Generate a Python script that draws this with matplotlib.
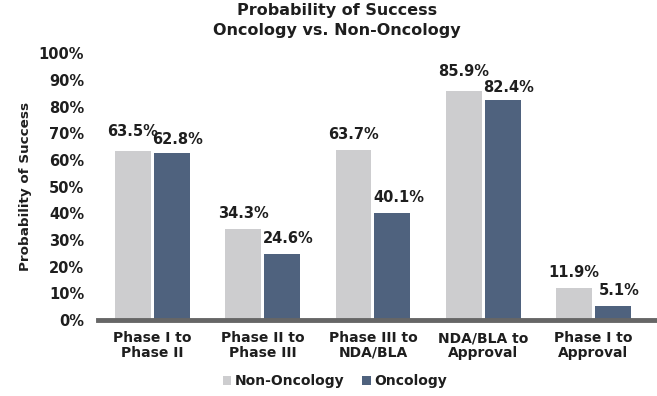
import matplotlib
matplotlib.use("Agg")
import matplotlib.pyplot as plt
import numpy as np

categories = ["Phase I to\nPhase II", "Phase II to\nPhase III", "Phase III to\nNDA/BLA",
              "NDA/BLA to\nApproval", "Phase I to\nApproval"]
non_oncology = [63.5, 34.3, 63.7, 85.9, 11.9]
oncology = [62.8, 24.6, 40.1, 82.4, 5.1]
yticks = [0, 10, 20, 30, 40, 50, 60, 70, 80, 90, 100]

c_non = "#CDCDCF"
c_onc = "#4F627E"
txt = "#1E1E1E"

plt.rcParams['font.family'] = ['DejaVu Sans']
W, H = 657, 396
fig = plt.figure(figsize=(W / 100, H / 100), dpi=100)
ax = fig.add_axes([98 / W, 1 - 320 / H, (W - 98) / W, (320 - 53.3) / H])

x = np.arange(len(categories))
w = 0.326
gap = 0.0136
b1 = ax.bar(x - w / 2 - gap, non_oncology, w, color=c_non, label="Non-Oncology", zorder=2)
b2 = ax.bar(x + w / 2 + gap, oncology, w, color=c_onc, label="Oncology", zorder=2)

for rect, v, o in zip(b1, non_oncology, oncology):
    off = 4.5 if abs(v - o) < 5 else 3.0
    ax.text(rect.get_x() + rect.get_width() / 2, v + off, f"{v:.1f}%", ha="center",
            va="bottom", fontsize=10.5, fontweight="bold", color=txt)
for rect, v, n in zip(b2, oncology, non_oncology):
    off = 1.9 if abs(v - n) < 5 else 3.0
    ax.text(rect.get_x() + rect.get_width() / 2 + 0.055, v + off, f"{v:.1f}%", ha="center",
            va="bottom", fontsize=10.5, fontweight="bold", color=txt)

ax.set_xlim(-0.494, 4.576)
ax.set_ylim(0, 100)
ax.set_yticks(yticks)
ax.set_yticklabels([f"{t}%" for t in yticks], fontsize=10.5, fontweight="bold", color=txt)
ax.set_xticks(x)
ax.set_xticklabels(categories, fontsize=10, fontweight="bold", color=txt, linespacing=1.05)
ax.tick_params(axis="both", length=0)
ax.tick_params(axis="y", pad=10)
ax.tick_params(axis="x", pad=8)
for s in ["top", "right", "left"]:
    ax.spines[s].set_visible(False)
ax.spines["bottom"].set_color("#666666")
ax.spines["bottom"].set_linewidth(3.5)
ax.spines["bottom"].set_zorder(3)
ax.set_ylabel("Probability of Success", fontsize=9.7, fontweight="bold", color=txt, labelpad=5)

fig.text(337 / W, 1 - 20.5 / H, "Probability of Success\nOncology vs. Non-Oncology", ha="center",
         va="center", fontsize=11.5, fontweight="bold", color=txt, linespacing=1.5)

leg = fig.legend(handles=[b1, b2], labels=["Non-Oncology", "Oncology"], loc="center",
                 bbox_to_anchor=(335 / W, 1 - 381 / H), ncol=2, frameon=False,
                 prop={"size": 10, "weight": "bold"}, handlelength=0.6, handleheight=0.6,
                 handletextpad=0.25, columnspacing=1.3)
for t in leg.get_texts():
    t.set_color(txt)

fig.savefig("out.png", dpi=100)
